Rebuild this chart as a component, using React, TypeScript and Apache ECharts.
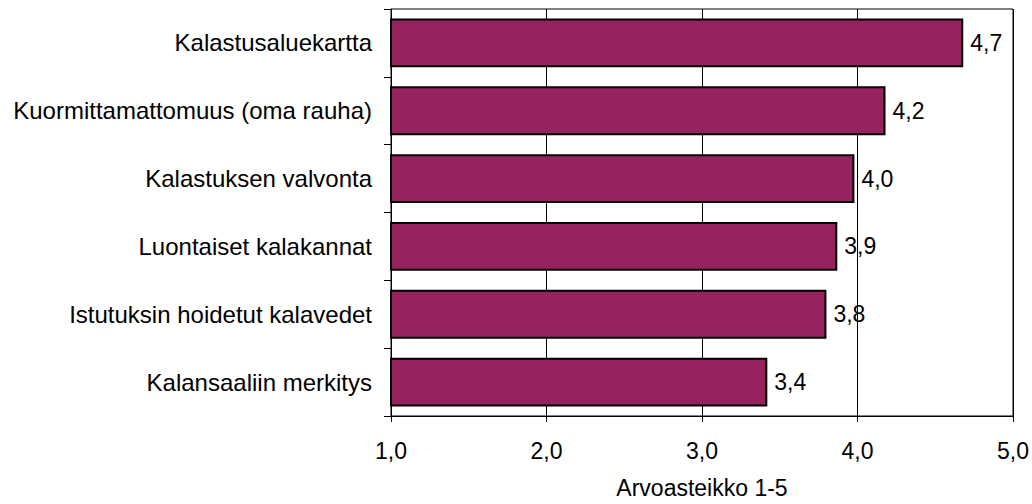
import React, { useEffect, useRef } from "react";
import * as echarts from "echarts";

const categories = [
  "Kalastusaluekartta",
  "Kuormittamattomuus (oma rauha)",
  "Kalastuksen valvonta",
  "Luontaiset kalakannat",
  "Istutuksin hoidetut kalavedet",
  "Kalansaaliin merkitys",
];
const values = [4.68, 4.18, 3.98, 3.87, 3.8, 3.42];
const axisTitle = "Arvoasteikko 1-5";

const fmt = (v: number) => v.toFixed(1).replace(".", ",");

export default function App() {
  const ref = useRef<HTMLDivElement>(null);
  useEffect(() => {
    if (!ref.current) return;
    const chart = echarts.init(ref.current, undefined, { renderer: "svg" });
    const font = "'Liberation Sans', Arial, sans-serif";
    chart.setOption({
      animation: false,
      backgroundColor: "#ffffff",
      textStyle: { fontFamily: font },
      grid: {
        left: 391,
        right: 18,
        top: 9,
        bottom: 85,
        show: true,
        borderColor: "#000",
        borderWidth: 1,
        containLabel: false,
      },
      xAxis: {
        type: "value",
        min: 1,
        max: 5,
        interval: 1,
        name: axisTitle,
        nameLocation: "middle",
        nameGap: 60,
        nameTextStyle: { color: "#000", fontSize: 23, fontFamily: font, verticalAlign: "top" },
        axisLine: { show: true, lineStyle: { color: "#000", width: 1 } },
        axisTick: { show: true, length: 6, lineStyle: { color: "#000" } },
        axisLabel: {
          color: "#000",
          fontSize: 23,
          fontFamily: font,
          margin: 23,
          formatter: (v: number) => fmt(v),
        },
        splitLine: { show: true, lineStyle: { color: "#000", width: 1 } },
      },
      yAxis: {
        type: "category",
        inverse: true,
        data: categories,
        axisLine: { show: true, lineStyle: { color: "#000", width: 1 } },
        axisTick: { show: true, length: 7, lineStyle: { color: "#000" } },
        axisLabel: { color: "#000", fontSize: 24, fontFamily: font, margin: 19 },
        splitLine: { show: false },
      },
      series: [
        {
          type: "bar",
          data: values,
          barCategoryGap: "28%",
          itemStyle: { color: "#96235E", borderColor: "#000", borderWidth: 2 },
          label: {
            show: true,
            position: "right",
            distance: 7,
            color: "#000",
            fontSize: 23,
            fontFamily: font,
            formatter: (p: any) => fmt(p.value),
          },
        },
      ],
    });
    return () => chart.dispose();
  }, []);
  return <div ref={ref} style={{ width: 1032, height: 504, position: "absolute", left: 0, top: 0 }} />;
}
